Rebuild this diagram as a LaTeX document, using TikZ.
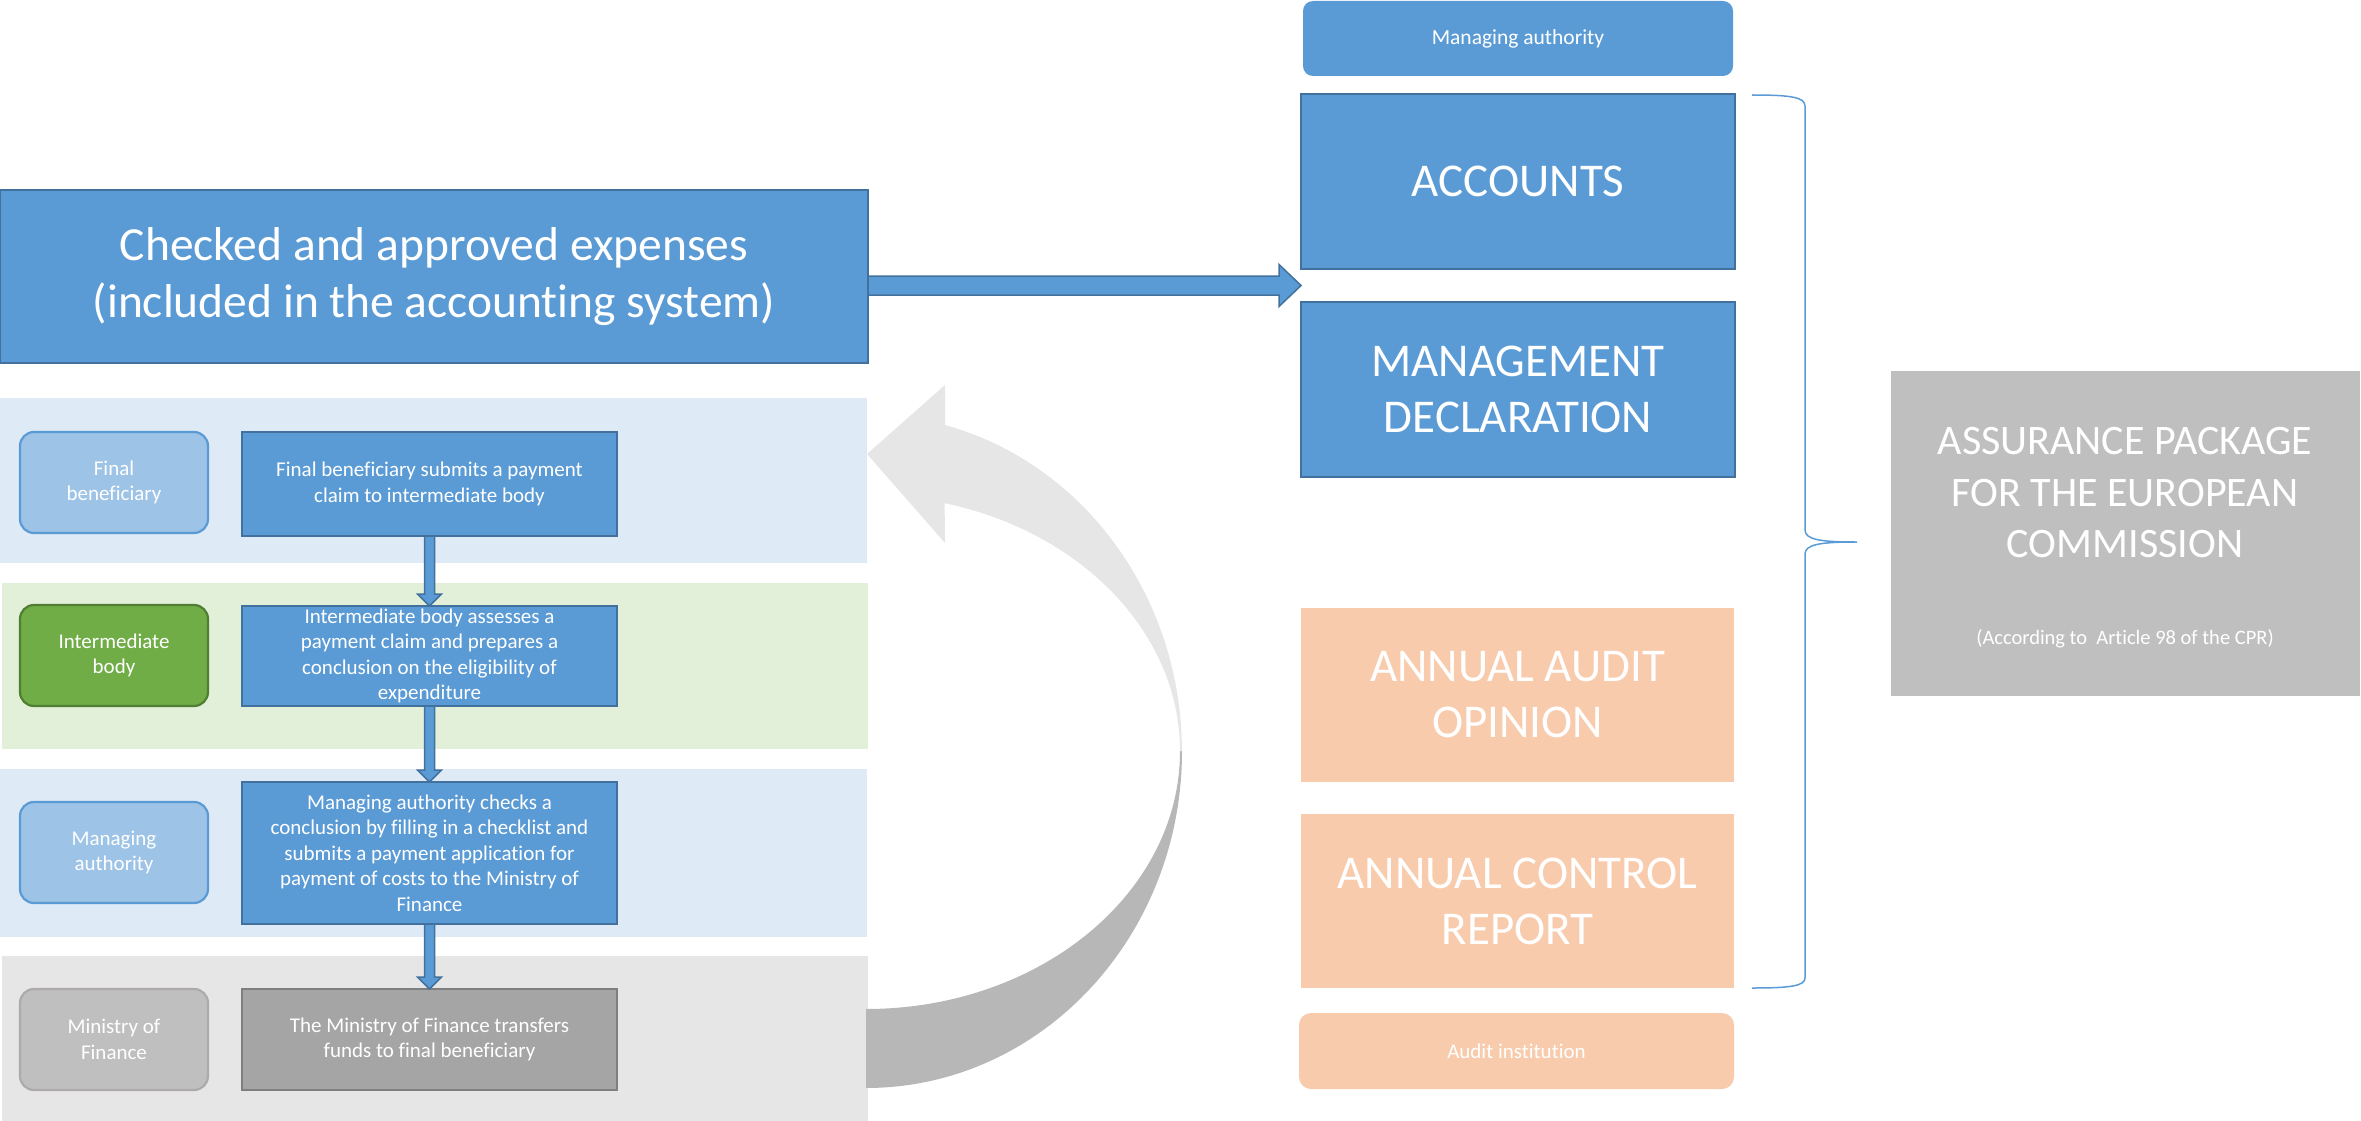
\documentclass[tikz,border=0pt]{standalone}
\usepackage{fontspec}
\setmainfont{Carlito}[Ligatures=NoCommon]
\usetikzlibrary{calc}
\definecolor{mblue}{HTML}{5B9BD5}
\definecolor{dblue}{HTML}{41719C}
\definecolor{bandblue}{HTML}{DEEBF7}
\definecolor{bandgreen}{HTML}{E2F0D9}
\definecolor{bandgray}{HTML}{E7E6E6}
\definecolor{lblue}{HTML}{9DC3E6}
\definecolor{igreen}{HTML}{70AD47}
\definecolor{dgreen}{HTML}{507E32}
\definecolor{lgray}{HTML}{BFBFBF}
\definecolor{lgrayb}{HTML}{AEAAAA}
\definecolor{mgray}{HTML}{A5A5A5}
\definecolor{mgrayb}{HTML}{7F7F7F}
\definecolor{peach}{HTML}{F8CBAD}
\definecolor{arrlight}{HTML}{E6E6E6}
\definecolor{arrdark}{HTML}{B7B7B7}
\tikzset{
  base/.style={inner sep=0pt, outer sep=0pt, anchor=north west, text=white, align=center},
  band/.style={base, fill=#1},
  pbox/.style={base, fill=mblue, draw=dblue, line width=2.2pt, font=\fontsize{21}{25.5}\selectfont},
  gbox/.style={base, fill=mgray, draw=mgrayb, line width=2.2pt, font=\fontsize{21}{25.5}\selectfont},
  lbox/.style={base, fill=#1, rounded corners=14pt, line width=2.2pt, font=\fontsize{21}{25.5}\selectfont},
  bigbox/.style={base, fill=mblue, draw=dblue, line width=2.2pt, font=\fontsize{47.5}{57}\selectfont},
  docbox/.style={base, fill=mblue, draw=dblue, line width=2.2pt, font=\fontsize{47}{56}\selectfont},
  audbox/.style={base, fill=peach, font=\fontsize{47}{56}\selectfont},
  blockarrow/.style={fill=mblue, draw=dblue, line width=1.5pt, line join=miter},
}
\begin{document}
\begin{tikzpicture}[x=1pt,y=-1pt]
\useasboundingbox (0,0) rectangle (2361,1121);
% lanes
\node[band=bandblue, minimum width=867pt, minimum height=165pt] (band1) at (0,398) {};
\node[band=bandgreen, minimum width=866pt, minimum height=166pt] (band2) at (2,583) {};
\node[band=bandblue, minimum width=867pt, minimum height=168pt] (band3) at (0,769) {};
\node[band=bandgray, minimum width=866pt, minimum height=165pt] (band4) at (2,956) {};
% curved arrow (dark lower part, then light upper part)
\fill[arrdark] (1182,751) arc[start angle=0, end angle=90, x radius=316, y radius=337]
  -- (866,1009) arc[start angle=90, end angle=0, x radius=314, y radius=258] -- cycle;
\fill[arrlight] (945,425) arc[start angle=-75.5, end angle=0, x radius=316, y radius=337]
  -- (1180,751) arc[start angle=0, end angle=-75.5, x radius=314, y radius=256]
  -- (945,543) -- (867,454) -- (945,385) -- cycle;
% big box
\node[bigbox, minimum width=868pt, minimum height=173pt] (big) at (0,190)
  {Checked and approved expenses\\(included in the accounting system)};
% lane labels
\node[lbox=lblue, draw=mblue, minimum width=188pt, minimum height=101pt] (l1) at (20,432) {Final\\beneficiary};
\node[lbox=igreen, draw=dgreen, minimum width=188pt, minimum height=101pt] (l2) at (20,605) {Intermediate\\body};
\node[lbox=lblue, draw=mblue, minimum width=188pt, minimum height=101pt] (l3) at (20,802) {Managing\\authority};
\node[lbox=lgray, draw=lgrayb, minimum width=188pt, minimum height=101pt] (l4) at (20,989) {Ministry of\\Finance};
% process boxes
\node[pbox, minimum width=375pt, minimum height=104pt] (p1) at (242,432)
  {Final beneficiary submits a payment\\claim to intermediate body};
\node[pbox, minimum width=375pt, minimum height=100pt] (p2) at (242,606)
  {Intermediate body assesses a\\payment claim and prepares a\\conclusion on the eligibility of\\expenditure};
\node[pbox, minimum width=375pt, minimum height=142pt] (p3) at (242,782)
  {Managing authority checks a\\conclusion by filling in a checklist and\\submits a payment application for\\payment of costs to the Ministry of\\Finance};
\node[gbox, minimum width=375pt, minimum height=101pt] (p4) at (242,989)
  {The Ministry of Finance transfers\\funds to final beneficiary};
% vertical block arrows
\foreach \a/\b in {p1/p2, p2/p3, p3/p4}{
  \path[blockarrow] let \p1=(\a.south), \p2=(\b.north) in
    (\x1-5pt,\y1) -- (\x1-5pt,\y2+12pt) -- (\x1-12pt,\y2+12pt) -- (\x1,\y2)
    -- (\x1+12pt,\y2+12pt) -- (\x1+5pt,\y2+12pt) -- (\x1+5pt,\y1) -- cycle;
}
% right column
\node[base, fill=mblue, rounded corners=10pt, minimum width=430pt, minimum height=75pt,
  font=\fontsize{21.5}{25}\selectfont] (ma) at (1303,1) {Managing authority};
\node[docbox, minimum width=434pt, minimum height=175pt] (acc) at (1301,94) {ACCOUNTS};
\node[docbox, minimum width=434pt, minimum height=175pt] (md) at (1301,302) {MANAGEMENT\\DECLARATION};
\node[audbox, minimum width=433pt, minimum height=174pt] (aao) at (1301,608) {ANNUAL AUDIT\\OPINION};
\node[audbox, minimum width=433pt, minimum height=174pt] (acr) at (1301,814) {ANNUAL CONTROL\\REPORT};
\node[base, fill=peach, rounded corners=12pt, minimum width=435pt, minimum height=76pt,
  font=\fontsize{21}{25}\selectfont] (ai) at (1299,1013) {Audit institution};
% big horizontal arrow
\coordinate (tip) at ($(acc.south west)!0.5!(md.north west)$);
\path[blockarrow] let \p1=(big.east), \p2=(tip) in
  (\x1,\y2+9.5pt) -- (\x2-22pt,\y2+9.5pt) -- (\x2-22pt,\y2+21pt) -- (\x2,\y2)
  -- (\x2-22pt,\y2-21pt) -- (\x2-22pt,\y2-9.5pt) -- (\x1,\y2-9.5pt) -- cycle;
% brace
\draw[mblue, line width=1.5pt]
  (1752,95) .. controls (1790,95) and (1805,97) .. (1805,106) -- (1805,530)
  .. controls (1805,540) and (1822,542) .. (1857,542)
  .. controls (1822,542) and (1805,544) .. (1805,554) -- (1805,978)
  .. controls (1805,986) and (1790,988) .. (1752,988);
% assurance package
\node[base, fill=lgray, minimum width=469pt, minimum height=325pt] (ap) at (1891,371) {};
\node[text=white, align=center, font=\fontsize{42}{51.5}\selectfont] (apt) at (2125,493)
  {ASSURANCE PACKAGE\\FOR THE EUROPEAN\\COMMISSION};
\node[text=white, font=\fontsize{20.5}{24}\selectfont] (apn) at (2125,639)
  {(According to\ \ Article 98 of the CPR)};
\end{tikzpicture}
\end{document}
